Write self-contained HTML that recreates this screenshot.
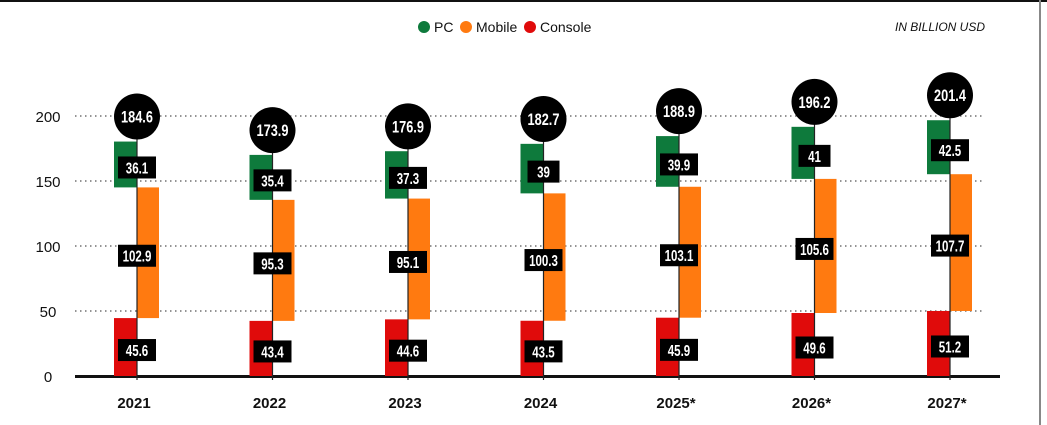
<!DOCTYPE html>
<html><head><meta charset="utf-8"><style>
body{margin:0;background:#fff;font-family:"Liberation Sans",sans-serif}
#wrap{position:relative;width:1047px;height:425px;overflow:hidden;background:#fff}
</style></head><body>
<div id="wrap">
<svg id="c" width="1047" height="425">
<rect x="0" y="0" width="1047" height="2" fill="#111"/>
<rect x="1039" y="0" width="2" height="425" fill="#888"/>
<g>
<circle cx="424" cy="27" r="6" fill="#0e7a3c"/>
<text x="434" y="32" font-size="14" fill="#111">PC</text>
<circle cx="466" cy="27" r="6" fill="#ff7a10"/>
<text x="476" y="32" font-size="14" fill="#111">Mobile</text>
<circle cx="530" cy="27" r="6" fill="#e00b0b"/>
<text x="540" y="32" font-size="14" fill="#111">Console</text>
</g>
<text x="985" y="31" font-size="12" font-style="italic" text-anchor="end" fill="#111">IN BILLION USD</text>
</svg>
</div>
<script>
const years=["2021","2022","2023","2024","2025*","2026*","2027*"];
const consoleVals=[45.6,43.4,44.6,43.5,45.9,49.6,51.2];
const mobileVals=[102.9,95.3,95.1,100.3,103.1,105.6,107.7];
const pcVals=[36.1,35.4,37.3,39,39.9,41,42.5];
const totals=[184.6,173.9,176.9,182.7,188.9,196.2,201.4];
const yTicks=[0,50,100,150,200];
const NS="http://www.w3.org/2000/svg";
const svg=document.getElementById('c');
const yg=v=>376-v*1.3;
const y=v=>376-v*1.27;
const x=i=>137+135.5*i;
function mk(t,a,p){const e=document.createElementNS(NS,t);for(const k in a)e.setAttribute(k,a[k]);(p||svg).appendChild(e);return e;}
yTicks.forEach(t=>{
  if(t>0){const l=mk('line',{x1:75,x2:985,y1:yg(t),y2:yg(t),stroke:'#555','stroke-width':1.2,'stroke-dasharray':'1.5 3.5'});
  
  }
  const tx=mk('text',{x:48,y:yg(t)+6,'font-size':15,'text-anchor':'middle',fill:'#111'});tx.textContent=t;
  
  
});
const ax=mk('line',{x1:75,x2:1000,y1:376.5,y2:376.5,stroke:'#111','stroke-width':3});


function label(cx,cy,txt,nm){
  const w=txt.length>3?38:32;
  const r=mk('rect',{x:cx-w/2,y:cy-11,width:w,height:22,fill:'#000'});
  
  
  const t=mk('text',{x:cx,y:cy+6,'font-size':16,'font-weight':'bold','text-anchor':'middle',fill:'#fff',transform:`translate(${cx},0) scale(0.72,1) translate(${-cx},0)`});
  t.textContent=txt;
  
  
}
years.forEach((yr,i)=>{
  const cx=x(i);
  const c=consoleVals[i],m=mobileVals[i],p=pcVals[i],tot=totals[i];
  const cy=y(tot)-25;
  const rc=mk('rect',{x:cx-23,y:y(c),width:23,height:y(0)-y(c),fill:'#e00b0b'});
  
  
  const rm=mk('rect',{x:cx,y:y(c+m),width:22,height:y(c)-y(c+m),fill:'#ff7a10'});
  
  
  const rp=mk('rect',{x:cx-23,y:y(c+m+p),width:23,height:y(c+m)-y(c+m+p),fill:'#0e7a3c'});
  
  
  const ln2=mk('line',{x1:cx,x2:cx,y1:cy,y2:380,stroke:'#222','stroke-width':1.2});
  
  
  label(cx,(y(0)+y(c))/2+3,String(c),'label-console-'+yr);
  label(cx,(y(c)+y(c+m))/2+3,String(m),'label-mobile-'+yr);
  label(cx,(y(c+m)+y(c+m+p))/2+3,String(p),'label-pc-'+yr);
  const ci=mk('circle',{cx:cx,cy:cy,r:23,fill:'#000'});
  
  
  const tt=mk('text',{x:cx,y:cy+6,'font-size':17,'font-weight':'bold','text-anchor':'middle',fill:'#fff',transform:`translate(${cx},0) scale(0.75,1) translate(${-cx},0)`});
  tt.textContent=tot;
  
  
  const xl=mk('text',{x:cx-3,y:408,'font-size':15,'font-weight':'bold','text-anchor':'middle',fill:'#111'});
  xl.textContent=yr;
  
  
});
</script>
</body></html>
